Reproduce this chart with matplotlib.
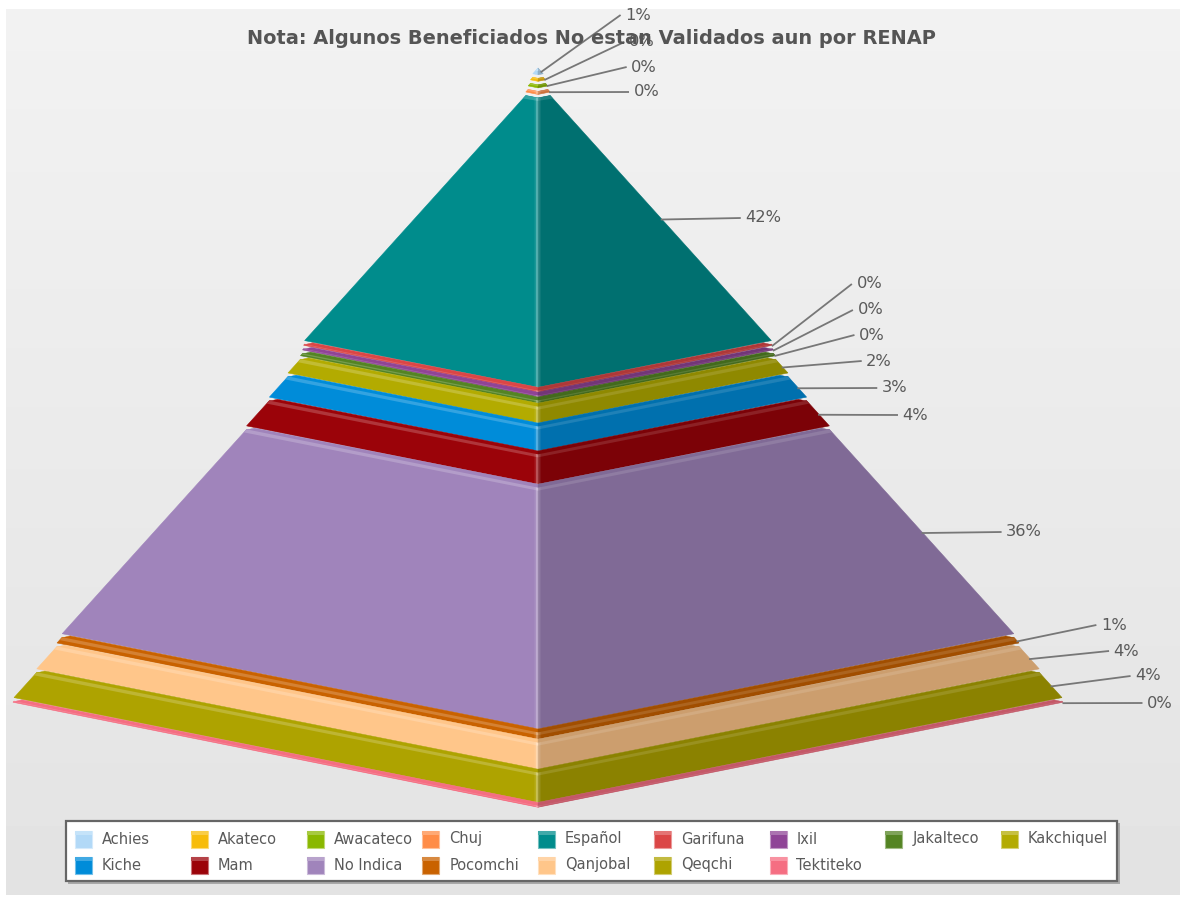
import numpy as np
import matplotlib
matplotlib.use("Agg")
import matplotlib.pyplot as plt
from matplotlib.patches import Polygon, Rectangle
from matplotlib.colors import to_rgb

# ---- data ----
categories = ["Achies", "Akateco", "Awacateco", "Chuj", "Español", "Garifuna", "Ixil", "Jakalteco",
              "Kakchiquel", "Kiche", "Mam", "No Indica", "Pocomchi", "Qanjobal", "Qeqchi", "Tektiteko"]
values = [1.0, 0.45, 0.45, 0.45, 42.7, 0.2, 0.2, 0.4, 2.4, 3.6, 4.4, 35.6, 1.0, 3.9, 4.4, 0.2]
pct_labels = ["1%", "0%", "0%", "0%", "42%", "0%", "0%", "0%", "2%", "3%", "4%", "36%", "1%", "4%", "4%", "0%"]
colors = ["#B2D9F7", "#F7BC0A", "#8AB800", "#FF8C47", "#008C8C", "#DB4646", "#8F4496", "#548423",
          "#B3AB00", "#008CD9", "#9B0309", "#A084BB", "#C96200", "#FFC68A", "#AEA300", "#F56E82"]
title = "Nota: Algunos Beneficiados No estan Validados aun por RENAP"
label_rows = [15, 42, 67, 92, 218, 284, 310, 335, 361, 388, 415, 532, 625, 651, 676, 703]

# ---- layout ----
W, H = 1180, 898
CX = 538.0
APEX_Y = 68.0
GAP = 3.5
PX_PER_VALUE_Y = 5.74
BASE_HALF_W = 525.0
DEPTH = 0.2
FONT = "DejaVu Sans"
TEXT = "#5A5A5A"


def shade(c, f):
    return tuple(min(1, v * f) for v in to_rgb(c))


def tint(c, f):
    r = np.array(to_rgb(c))
    return tuple(r + (1 - r) * f)


fig = plt.figure(figsize=(W / 100, H / 100), dpi=100, facecolor="white")
ax = fig.add_axes([0, 0, 1, 1])
ax.set_xlim(0, W)
ax.set_ylim(H, 0)
ax.axis("off")

# background gradient
grad = np.linspace(0.948, 0.89, 256).reshape(-1, 1)
ax.imshow(grad, extent=(6, W, 895, 9), cmap="gray", vmin=0, vmax=1, aspect="auto", zorder=0)
ax.set_xlim(0, W)
ax.set_ylim(H, 0)

vals = np.array(values, dtype=float)
cum = np.concatenate([[0], np.cumsum(vals)])
half = BASE_HALF_W * cum / cum[-1]

y = APEX_Y
for i, (v, col) in enumerate(zip(vals, colors)):
    wt, wb = half[i], half[i + 1]
    yt, yb = y, y + v * PX_PER_VALUE_Y
    ft, fb = yt + DEPTH * wt, yb + DEPTH * wb
    rc = shade(col, 0.8)
    for sign, fc in ((-1, col), (1, rc)):
        ax.add_patch(Polygon([(CX + sign * wt, yt), (CX, ft), (CX, fb), (CX + sign * wb, yb)],
                             closed=True, fc=fc, ec=fc, lw=0.4, zorder=2))
        # the slice rises to meet the one above, except at its outer corner
        if wt > 20:
            inset = min(8.0, wt * 0.1)
            ax.add_patch(Polygon([(CX + sign * wt, yt + 0.5),
                                  (CX + sign * (wt - inset), yt - GAP + DEPTH * inset + 0.6),
                                  (CX, ft - GAP), (CX, ft + 1)],
                                 closed=True, fc=fc, ec=fc, lw=0.3, zorder=2))
    h = yb - yt
    band = min(3.0, h * 0.5)
    # light bevel along the upper edge
    ax.add_patch(Polygon([(CX - wt, yt), (CX, ft), (CX, ft + band), (CX - wt - (wb - wt) * band / max(h, .1), yt + band)],
                         closed=True, fc=tint(col, 0.2), ec="none", zorder=3))
    ax.add_patch(Polygon([(CX + wt, yt), (CX, ft), (CX, ft + band), (CX + wt + (wb - wt) * band / max(h, .1), yt + band)],
                         closed=True, fc=tint(rc, 0.12), ec="none", zorder=3))
    # central ridge highlight
    if wb > 10:
        for dx, a in zip([(-3.5, -2), (-2, 0), (0, 1.5), (1.5, 3)], [0.1, 0.32, 0.18, 0.06]):
            ax.add_patch(Polygon([(CX + dx[0], ft - min(abs(dx[0]), wt) * DEPTH), (CX + dx[1], ft - min(abs(dx[1]), wt) * DEPTH),
                                  (CX + dx[1], fb - abs(dx[1]) * DEPTH), (CX + dx[0], fb - abs(dx[0]) * DEPTH)],
                                 closed=True, fc="white", ec="none", alpha=a, zorder=4))
    # leader and label
    ym = (yt + yb) / 2 + 1.5
    xm = CX + (wt + wb) / 2
    x_end = xm + 80
    ax.plot([xm, x_end], [ym, label_rows[i]], color="#777777", lw=1.3, zorder=5, solid_capstyle="butt")
    ax.text(x_end + 4.5, label_rows[i], pct_labels[i], fontsize=11.7, family=FONT, color=TEXT, va="center", ha="left", zorder=5)
    y = yb + GAP

# title
ax.text(591.5, 38, title, fontsize=13.95, fontweight="bold", family=FONT, color="#555555", ha="center", va="center", zorder=6)

# legend
ax.add_patch(Rectangle((68, 823), 1052, 61, fc="#A8A8A8", ec="none", zorder=7))
ax.add_patch(Rectangle((65.5, 821), 1051, 60, fc="white", ec="#666666", lw=1.6, zorder=8))
col_step = 115.75
for i, (name, col) in enumerate(zip(categories, colors)):
    r, c = (i // 9, i % 9)
    x0 = 75 + c * col_step
    yc = 839 + r * 26
    ax.add_patch(Rectangle((x0, yc - 8.5), 17, 17, fc=col, ec=tint(col, 0.45), lw=0.8, zorder=9))
    ax.add_patch(Rectangle((x0, yc - 8.5), 17, 4, fc=tint(col, 0.25), ec="none", zorder=9))
    ax.text(x0 + 27, yc, name, fontsize=10.55, family=FONT, color=TEXT, va="center", ha="left", zorder=9)

fig.savefig("out.png", dpi=100)
